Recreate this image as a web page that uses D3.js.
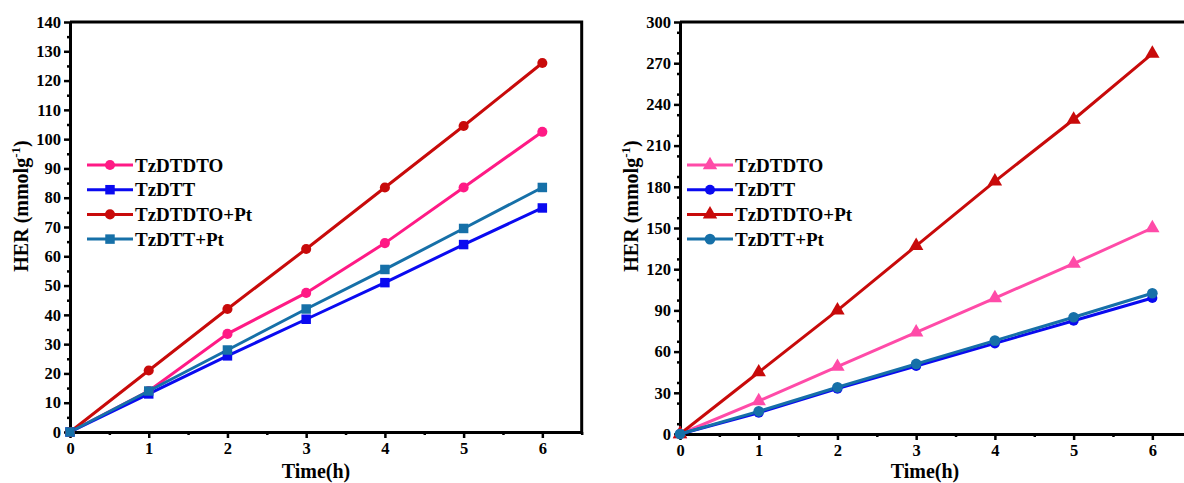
<!DOCTYPE html>
<html><head><meta charset="utf-8">
<script src="https://cdn.jsdelivr.net/npm/d3@7"></script>
<style>
body{margin:0;background:#fff;}
svg{display:block;font-family:"Liberation Serif","Times New Roman",serif;font-weight:bold;}
</style></head><body>
<svg id="c" width="1184" height="483"></svg>
<script>
const hours = [0,1,2,3,4,5,6];
const seriesNames = ["TzDTDTO","TzDTT","TzDTDTO+Pt","TzDTT+Pt"];
// Left panel
const leftTzDTDTO   = [0,14,33.5,47.5,64.5,83.5,102.5];
const leftTzDTT     = [0,13,26,38.5,51,64,76.5];
const leftTzDTDTOPt = [0,21,42,62.5,83.5,104.5,126];
const leftTzDTTPt   = [0,14,28,42,55.5,69.5,83.5];
const leftYTicks = [0,10,20,30,40,50,60,70,80,90,100,110,120,130,140];
// Right panel
const rightTzDTDTO   = [0,24,49,74,99,124,150];
const rightTzDTT     = [0,15.5,33,49.5,66,82.5,99];
const rightTzDTDTOPt = [0,45,90,137,184,229,277];
const rightTzDTTPt   = [0,16.5,34,51,68,85,102.5];
const rightYTicks = [0,30,60,90,120,150,180,210,240,270,300];
const xTicks = [0,1,2,3,4,5,6];

const svg = d3.select("#c");

function panel(cfg){
  const g = svg.append("g");
  const x = d3.scaleLinear().domain([0,6.5]).range([cfg.x0,cfg.x1]);
  const y = d3.scaleLinear().domain([0,cfg.ymax]).range([cfg.y0,cfg.y1]);

  g.append("path").attr("d",`M${cfg.x0},${cfg.y1}H${cfg.x1}V${cfg.y0}`)
    .attr("fill","none").attr("stroke","#000").attr("stroke-width",3);

  const yMinor = d3.range(cfg.ystep/2, cfg.ymax, cfg.ystep);
  g.append("g").attr("transform",`translate(${cfg.x0},0)`)
    .call(d3.axisLeft(y).tickValues(yMinor).tickSize(3).tickFormat(""))
    .call(a=>{a.select(".domain").remove();a.selectAll("line").attr("stroke-width",2.5);});
  g.append("g").attr("transform",`translate(0,${cfg.y0})`)
    .call(d3.axisBottom(x).tickValues([0.5,1.5,2.5,3.5,4.5,5.5,6.5]).tickSize(3).tickFormat(""))
    .call(a=>{a.select(".domain").remove();a.selectAll("line").attr("stroke-width",2.5);});

  const ya = g.append("g").attr("transform",`translate(${cfg.x0},0)`)
    .call(d3.axisLeft(y).tickValues(cfg.yticks).tickFormat(d3.format("d")).tickSize(6).tickPadding(3).tickSizeOuter(0));
  ya.select(".domain").attr("stroke-width",3);
  ya.selectAll("line").attr("stroke-width",2.5);
  ya.selectAll("text").attr("font-family","Liberation Serif").attr("font-weight","bold").attr("font-size",16.5).attr("fill","#000");

  const xa = g.append("g").attr("transform",`translate(0,${cfg.y0})`)
    .call(d3.axisBottom(x).tickValues(xTicks).tickFormat(d3.format("d")).tickSize(6).tickPadding(4).tickSizeOuter(0));
  xa.select(".domain").attr("stroke-width",3);
  xa.selectAll("line").attr("stroke-width",2.5);
  xa.selectAll("text").attr("font-family","Liberation Serif").attr("font-weight","bold").attr("font-size",16.5).attr("fill","#000");

  g.append("text").attr("x",cfg.xtitle).attr("y",478).attr("text-anchor","middle")
    .attr("font-size",20).text("Time(h)");
  const yt = g.append("text").attr("transform",`translate(${cfg.ytitleX},206) rotate(-90)`)
    .attr("text-anchor","middle").attr("font-size",20);
  yt.append("tspan").text("HER (mmolg");
  yt.append("tspan").attr("font-size",13).attr("dy",-8).text("-1");
  yt.append("tspan").attr("dy",8).text(")");

  const line = d3.line().x((d,i)=>x(hours[i])).y(d=>y(d));
  cfg.series.forEach(s=>{
    g.append("path").datum(s.values).attr("d",line).attr("fill","none")
      .attr("stroke",s.color).attr("stroke-width",3);
  });
  cfg.series.forEach(s=>{
    g.selectAll(null).data(s.values).enter().append("path")
      .attr("transform",(d,i)=>`translate(${x(hours[i])},${y(d)})`)
      .attr("d",d3.symbol().type(s.symbol).size(s.size)())
      .attr("fill",s.color);
  });

  cfg.series.forEach((s,i)=>{
    const ly = cfg.legY + i*24.7;
    g.append("line").attr("x1",cfg.legX).attr("x2",cfg.legX+46).attr("y1",ly).attr("y2",ly)
      .attr("stroke",s.color).attr("stroke-width",3);
    g.append("path").attr("transform",`translate(${cfg.legX+23},${ly})`)
      .attr("d",d3.symbol().type(s.symbol).size(s.size)()).attr("fill",s.color);
    g.append("text").attr("x",cfg.legX+48).attr("y",ly+6.5).attr("font-size",19).text(s.name);
  });
}

panel({x0:70,x1:581.7,y0:432,y1:22,ymax:140,ystep:10,yticks:leftYTicks,xtitle:316,ytitleX:28,
  legX:87,legY:165,
  series:[
    {name:seriesNames[0],values:leftTzDTDTO,color:"#FF1A85",symbol:d3.symbolCircle,size:80},
    {name:seriesNames[1],values:leftTzDTT,color:"#0A0AF0",symbol:d3.symbolSquare,size:90},
    {name:seriesNames[2],values:leftTzDTDTOPt,color:"#C80A0A",symbol:d3.symbolCircle,size:80},
    {name:seriesNames[3],values:leftTzDTTPt,color:"#1670A8",symbol:d3.symbolSquare,size:90}
  ]});

panel({x0:680,x1:1191.7,y0:434,y1:22,ymax:300,ystep:15,yticks:rightYTicks,xtitle:925,ytitleX:638,
  legX:687,legY:165,
  series:[
    {name:seriesNames[0],values:rightTzDTDTO,color:"#FF4BA8",symbol:d3.symbolTriangle,size:90},
    {name:seriesNames[1],values:rightTzDTT,color:"#0A0AF0",symbol:d3.symbolCircle,size:80},
    {name:seriesNames[2],values:rightTzDTDTOPt,color:"#C80A0A",symbol:d3.symbolTriangle,size:90},
    {name:seriesNames[3],values:rightTzDTTPt,color:"#1670A8",symbol:d3.symbolCircle,size:90}
  ]});
</script>
</body></html>
